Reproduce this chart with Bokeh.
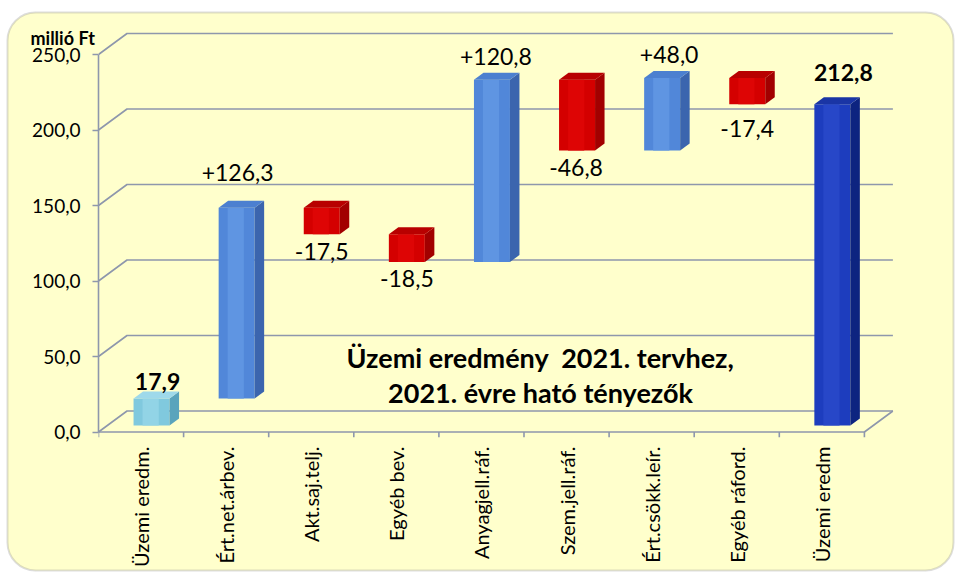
import math
from bokeh.plotting import figure
from bokeh.models import (FixedTicker, CustomJSTickFormatter, LinearAxis, Range1d,
                          BoxAnnotation, ColumnDataSource)
from bokeh.core.properties import value
from bokeh.embed import file_html
from bokeh.resources import INLINE

# ---------------- data ----------------
categories = ["Üzemi eredm.", "Ért.net.árbev.", "Akt.saj.telj.", "Egyéb bev.",
              "Anyagjell.ráf.", "Szem.jell.ráf.", "Ért.csökk.leír.", "Egyéb ráford.",
              "Üzemi eredm"]
changes = [17.9, 126.3, -17.5, -18.5, 120.8, -46.8, 48.0, -17.4, 212.8]
kinds = ["start", "delta", "delta", "delta", "delta", "delta", "delta", "delta", "total"]
y_ticks = [0, 50, 100, 150, 200, 250]
unit_text = "millió Ft"
title_lines = ["Üzemi eredmény \u00a02021. tervhez,", "2021. évre ható tényezők"]

# ---------------- style ----------------
CREAM = "#FFFFCC"
GRID = "#8E97AC"
FONT = "Lato"
lbl_dx = [6, 1, 0, 0, 4, -1, 7, 0, 11]
lbl_dy = [-17, -35, 17, 16, -23, 17, -23, 24, -32]

W, H = 955, 572
FL, FR, FT, FB = 98, 893, 30, 437
Y0 = 431.5
PY = 1.51
PX = 85.1
x_end = (FR - FL) / PX
y_start = -(FB - Y0) / PY
y_end = (Y0 - FT) / PY

def px2x(px):
    return (px - FL) / PX

def px2y(py):
    return (Y0 - py) / PY

DX, DY = 28.5 / PX, 21 / PY
SX, SY = 10.5 / PX, 6.5 / PY
BW = 36 / PX
BX, BY = 9.5 / PX, 7 / PY

# ---------------- background layer (rounded panel + unit caption) ----------------
bg = figure(width=W, height=H, x_range=Range1d(0, W), y_range=Range1d(H, 0),
            output_backend="svg", toolbar_location=None, x_axis_type=None, y_axis_type=None,
            min_border=0, min_border_left=0, min_border_right=0, min_border_top=0,
            min_border_bottom=0, background_fill_color="white", border_fill_color="white",
            outline_line_color=None)
bg.add_layout(BoxAnnotation(left=7, right=953, top=12, bottom=570,
                            fill_color=CREAM, fill_alpha=1, line_color="#8A8A8A",
                            line_width=2, border_radius=28, level="underlay"))
bg.text(x=[30], y=[37], text=[unit_text], text_align="left", text_baseline="middle",
        text_font=value(FONT), text_font_size="18px", text_font_style="bold",
        text_color="black")

# ---------------- waterfall ----------------
bottoms, tops = [], []
run = 0.0
for c, k in zip(changes, kinds):
    if k in ("start", "total"):
        b, t = 0.0, c
        run = c
    else:
        b, t = (run, run + c) if c >= 0 else (run + c, run)
        run += c
    bottoms.append(b)
    tops.append(t)

front_c, side_c, top_c, hi_c = [], [], [], []
for c, k in zip(changes, kinds):
    if k == "start":
        f, s, tp, hi = "#80C9DE", "#5AA4BC", "#9ED9EA", "#92D4E6"
    elif k == "total":
        f, s, tp, hi = "#1D3DBE", "#0D2480", "#1A35A5", "#2747C8"
    elif c >= 0:
        f, s, tp, hi = "#5187D9", "#3B65AE", "#4C80D0", "#5F95E2"
    else:
        f, s, tp, hi = "#D40000", "#A20000", "#B80000", "#DE0505"
    front_c.append(f); side_c.append(s); top_c.append(tp); hi_c.append(hi)

n = len(categories)
lefts = [i + 0.5 + SX - BW / 2 for i in range(n)]
rights = [l + BW for l in lefts]
fb = [b + SY for b in bottoms]
ft = [t + SY for t in tops]

side_xs = [[r, r + BX, r + BX, r] for r in rights]
side_ys = [[b, b + BY, t + BY, t] for b, t in zip(fb, ft)]
top_xs = [[l, l + BX, r + BX, r] for l, r in zip(lefts, rights)]
top_ys = [[t, t + BY, t + BY, t] for t in ft]

p = figure(width=W, height=H, x_range=Range1d(0, x_end), y_range=Range1d(y_start, y_end),
           output_backend="svg", toolbar_location=None,
           x_axis_type=None, y_axis_type=None,
           min_border_left=FL, min_border_right=W - FR, min_border_top=FT,
           min_border_bottom=H - FB,
           background_fill_color=None, border_fill_color=None,
           outline_line_color=None,
           styles={"position": "absolute", "top": "0px", "left": "0px"})

# 3D walls
for v in y_ticks:
    p.line([0, DX, n + DX], [v, v + DY, v + DY], line_color=GRID, line_width=1.6)
p.line([0, n, n + DX], [0, 0, DY], line_color=GRID, line_width=1.6)
p.segment(x0=list(range(n + 1)), y0=[0] * (n + 1), x1=list(range(n + 1)),
          y1=[y_start] * (n + 1), line_color=GRID, line_width=1.6)

# bars
p.quad(left=lefts, right=rights, bottom=fb, top=ft, fill_color=front_c, line_color=None)
p.quad(left=[l + BW * 0.25 for l in lefts], right=[r - BW * 0.3 for r in rights],
       bottom=fb, top=ft, fill_color=hi_c, line_color=None)
p.patches(side_xs, side_ys, fill_color=side_c, line_color=None)
p.patches(top_xs, top_ys, fill_color=top_c, line_color=None)

def fmt(c, k):
    s = f"{abs(c):.1f}".replace(".", ",")
    if k == "delta":
        s = ("+" if c >= 0 else "-") + s
    return s

lab_x = [(l + r) / 2 for l, r in zip(lefts, rights)]
lab_y = [ft[i] if changes[i] >= 0 else fb[i] for i in range(n)]
lab_t = [fmt(c, k) for c, k in zip(changes, kinds)]
bold_idx = [i for i in range(n) if kinds[i] != "delta"]
norm_idx = [i for i in range(n) if kinds[i] == "delta"]
for idx, style in ((norm_idx, "normal"), (bold_idx, "bold")):
    src = ColumnDataSource(dict(x=[lab_x[i] for i in idx], y=[lab_y[i] for i in idx],
                                t=[lab_t[i] for i in idx], dx=[lbl_dx[i] for i in idx],
                                dy=[lbl_dy[i] for i in idx]))
    p.text(x="x", y="y", text="t", x_offset="dx", y_offset="dy", source=src,
           text_align="center", text_baseline="middle", text_font=value(FONT),
           text_font_size="23px", text_font_style=style, text_color="black")

p.text(x=[px2x(540)] * 2, y=[px2y(357), px2y(392)], text=title_lines,
       text_align="center", text_baseline="middle", text_font=value(FONT),
       text_font_size="27px", text_font_style="bold", text_color="black")

yaxis = LinearAxis(ticker=FixedTicker(ticks=y_ticks),
                   formatter=CustomJSTickFormatter(code="return tick.toFixed(1).replace('.', ',');"),
                   bounds=(0, 250), axis_line_color=GRID, axis_line_width=1.6,
                   major_tick_line_color=GRID, major_tick_line_width=1.6,
                   major_tick_out=6, major_tick_in=0, minor_tick_line_color=None,
                   major_label_text_font=FONT, major_label_text_font_size="19px",
                   major_label_text_color="black", major_label_standoff=12)
p.add_layout(yaxis, "left")

xaxis = LinearAxis(ticker=FixedTicker(ticks=[i + 0.5 for i in range(n)]),
                   formatter=CustomJSTickFormatter(args=dict(labels=categories),
                                                   code="return labels[Math.floor(tick)];"),
                   axis_line_color=None, major_tick_line_color=None,
                   minor_tick_line_color=None, major_label_orientation=math.pi / 2,
                   major_label_text_font=FONT, major_label_text_font_size="20px",
                   major_label_text_color="black", major_label_standoff=3)
p.add_layout(xaxis, "below")

open("out.html", "w").write(file_html([bg, p], INLINE))
